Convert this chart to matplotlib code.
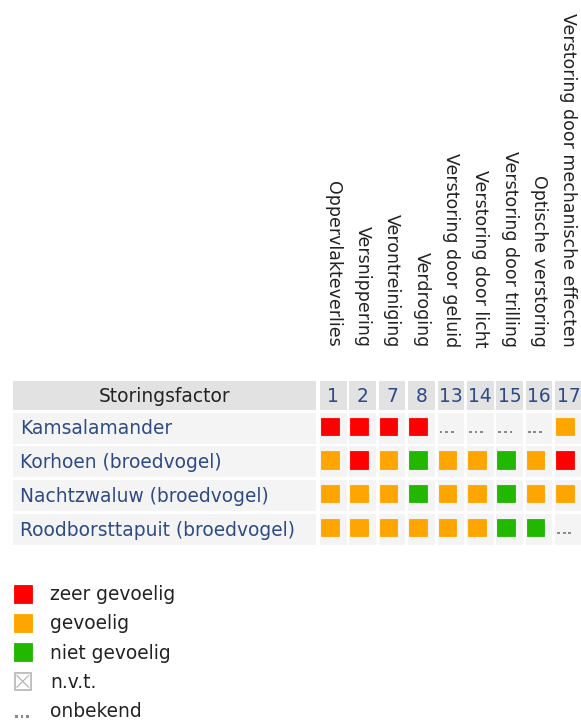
import matplotlib
matplotlib.use("Agg")
import matplotlib.pyplot as plt
from matplotlib.patches import Rectangle

# ---- data ----
factor_codes = ['1', '2', '7', '8', '13', '14', '15', '16', '17']
factor_names = ['Oppervlakteverlies', 'Versnippering', 'Verontreiniging', 'Verdroging',
                'Verstoring door geluid', 'Verstoring door licht', 'Verstoring door trilling',
                'Optische verstoring', 'Verstoring door mechanische effecten']
species = ['Kamsalamander', 'Korhoen (broedvogel)', 'Nachtzwaluw (broedvogel)',
           'Roodborsttapuit (broedvogel)']
# Z = zeer gevoelig, G = gevoelig, N = niet gevoelig, X = n.v.t., U = onbekend
kamsalamander = ['Z', 'Z', 'Z', 'Z', 'U', 'U', 'U', 'U', 'G']
korhoen = ['G', 'Z', 'G', 'N', 'G', 'G', 'N', 'G', 'Z']
nachtzwaluw = ['G', 'G', 'G', 'N', 'G', 'G', 'N', 'G', 'G']
roodborsttapuit = ['G', 'G', 'G', 'G', 'G', 'G', 'N', 'N', 'U']
sensitivity = [kamsalamander, korhoen, nachtzwaluw, roodborsttapuit]
legend_codes = ['Z', 'G', 'N', 'X', 'U']
legend_labels = ['zeer gevoelig', 'gevoelig', 'niet gevoelig', 'n.v.t.', 'onbekend']

# ---- style ----
colors = {'Z': '#ff0000', 'G': '#ffa500', 'N': '#22b800'}
W, H = 581, 722
FS = 13.4   # points, horizontal text
FS_ROT = 12.5
blue = '#2d4a85'
dark = '#222222'

fig = plt.figure(figsize=(W / 100, H / 100), dpi=100)
ax = fig.add_axes([0, 0, 1, 1])
ax.set_xlim(0, W)
ax.set_ylim(H, 0)
ax.axis('off')

col_x0, col_pitch, col_w = 320.0, 29.4, 26.5
head_y0, head_h = 380.5, 29.0
row_y0, row_pitch, row_h = 412.5, 33.7, 31.0
name_x0, name_x1 = 13.0, 316.0
sq = 17.5


def cx(i):
    return col_x0 + i * col_pitch


def ry(j):
    return row_y0 + j * row_pitch


def draw_symbol(code, x, y):
    """x, y = top-left of square"""
    if code in colors:
        ax.add_patch(Rectangle((x, y), sq, sq, facecolor=colors[code],
                               edgecolor=colors[code], lw=0.6))
    elif code == 'X':
        ax.add_patch(Rectangle((x + 0.5, y + 0.5), sq - 1, sq - 1, facecolor='white',
                               edgecolor='#b5b5b5', lw=1.2))
        ax.plot([x + 3, x + sq - 3], [y + 3, y + sq - 3], color='#b5b5b5', lw=0.9)
        ax.plot([x + 3, x + sq - 3], [y + sq - 3, y + 3], color='#b5b5b5', lw=0.9)
    elif code == 'U':
        for k in range(3):
            ax.add_patch(Rectangle((x + 1 + k * 5.6, y + sq - 4.5), 2.8, 2.8,
                                   facecolor='#8a8a8a', edgecolor='none'))


# rotated factor names
for i, name in enumerate(factor_names):
    ax.text(cx(i) + col_w / 2, 347, name, rotation=270, ha='center', va='bottom',
            fontsize=FS_ROT, color=dark)

# header row
ax.add_patch(Rectangle((name_x0, head_y0), name_x1 - name_x0, head_h,
                       facecolor='#e2e2e2', edgecolor='none'))
ax.text((name_x0 + name_x1) / 2, head_y0 + head_h / 2 + 1, 'Storingsfactor',
        ha='center', va='center', fontsize=FS, color=dark)
for i, code in enumerate(factor_codes):
    ax.add_patch(Rectangle((cx(i), head_y0), col_w, head_h, facecolor='#e2e2e2',
                           edgecolor='none'))
    ax.text(cx(i) + col_w / 2, head_y0 + head_h / 2 + 1, code, ha='center',
            va='center', fontsize=FS, color=blue)

# data rows
for j, (sp, vals) in enumerate(zip(species, sensitivity)):
    y = ry(j)
    ax.add_patch(Rectangle((name_x0, y), name_x1 - name_x0, row_h,
                           facecolor='#f4f4f4', edgecolor='none'))
    ax.text(20, y + row_h / 2 + 1, sp, ha='left', va='center', fontsize=FS, color=blue)
    for i, v in enumerate(vals):
        ax.add_patch(Rectangle((cx(i), y), col_w, row_h, facecolor='#f4f4f4',
                               edgecolor='none'))
        draw_symbol(v, cx(i) + 1, y + 5)

# legend
leg_y0, leg_pitch = 585.0, 29.2
for k, (code, lab) in enumerate(zip(legend_codes, legend_labels)):
    y = leg_y0 + k * leg_pitch
    draw_symbol(code, 14, y)
    ax.text(50, y + sq / 2 + 1, lab, ha='left', va='center', fontsize=FS, color=dark)

fig.savefig('out.png', dpi=100, facecolor='white')
